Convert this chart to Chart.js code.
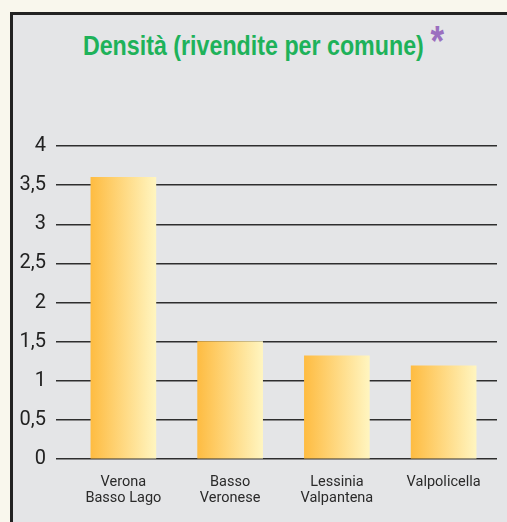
<!DOCTYPE html>
<html>
<head>
<meta charset="utf-8">
<script src="https://cdn.jsdelivr.net/npm/chart.js@4/dist/chart.umd.min.js"></script>
<style>
  html, body { margin: 0; padding: 0; }
  body { width: 507px; height: 522px; background: #f9f7ed; position: relative; overflow: hidden; }
  .panel {
    position: absolute; left: 10px; top: 12px; width: 520px; height: 530px;
    background: #e4e5e7; border-left: 3px solid #222; border-top: 3px solid #222;
  }
  .title {
    position: absolute; left: 0; top: 29px; width: 507px; text-align: center;
    font: bold 28px "Liberation Sans", Arial, sans-serif;
    color: #1eb25a; line-height: 34px;
  }
  .title span.txt { position: relative; display: inline-block; transform: scaleX(0.83); }
  .title .star {
    position: absolute; left: 100%; color: #9b6fbf; font-size: 42px; margin-left: 8px; top: -5px;
  }
  .wrap { position: absolute; left: 0; top: 0; width: 507px; height: 522px; }
</style>
</head>
<body>
<div class="panel"></div>
<div class="title"><span class="txt">Densità (rivendite per comune)<span class="star">*</span></span></div>
<div class="wrap"><canvas id="chart"></canvas></div>
<script>
const categories = [['Verona', 'Basso Lago'], ['Basso', 'Veronese'], ['Lessinia', 'Valpantena'], 'Valpolicella'];
const densita = [3.6, 1.5, 1.32, 1.19];
const yTickLabels = ['0', '0,5', '1', '1,5', '2', '2,5', '3', '3,5', '4'];

const barWidth = 65;

const ctx = document.getElementById('chart').getContext('2d');
new Chart(ctx, {
  type: 'bar',
  data: {
    labels: categories,
    datasets: [{
      label: 'Densità',
      data: densita,
      barThickness: barWidth,
      borderWidth: 0,
      backgroundColor: (c) => {
        const chart = c.chart;
        const x = chart.scales.x ? chart.scales.x.getPixelForValue(c.dataIndex) : NaN;
        if (!isFinite(x)) return '#fdc55a';
        const g = chart.ctx.createLinearGradient(x - barWidth / 2, 0, x + barWidth / 2, 0);
        g.addColorStop(0, 'rgb(254,188,66)');
        g.addColorStop(1, 'rgb(255,245,192)');
        return g;
      }
    }]
  },
  options: {
    responsive: true,
    maintainAspectRatio: false,
    animation: false,
    layout: { padding: { top: 146, right: 10, left: 0, bottom: 0 } },
    plugins: { legend: { display: false }, tooltip: { enabled: false } },
    scales: {
      x: {
        grid: { display: false },
        border: { display: false },
        afterFit: (s) => { s.height = 63; },
        ticks: {
          color: '#2a2a2a',
          padding: 8,
          maxRotation: 0,
          font: { family: 'Roboto, "Liberation Sans", sans-serif', size: 14.5, lineHeight: '15.5px' }
        }
      },
      y: {
        min: 0,
        max: 4,
        afterFit: (s) => { s.width = 70; },
        border: { display: false },
        grid: { color: '#2e2e2e', lineWidth: 1.5, tickLength: 14, drawTicks: true },
        ticks: {
          stepSize: 0.5,
          padding: 10,
          color: '#222',
          font: { family: 'Roboto, "Liberation Sans", sans-serif', size: 20 },
          callback: (v, i) => yTickLabels[i]
        }
      }
    }
  }
});
</script>
</body>
</html>
